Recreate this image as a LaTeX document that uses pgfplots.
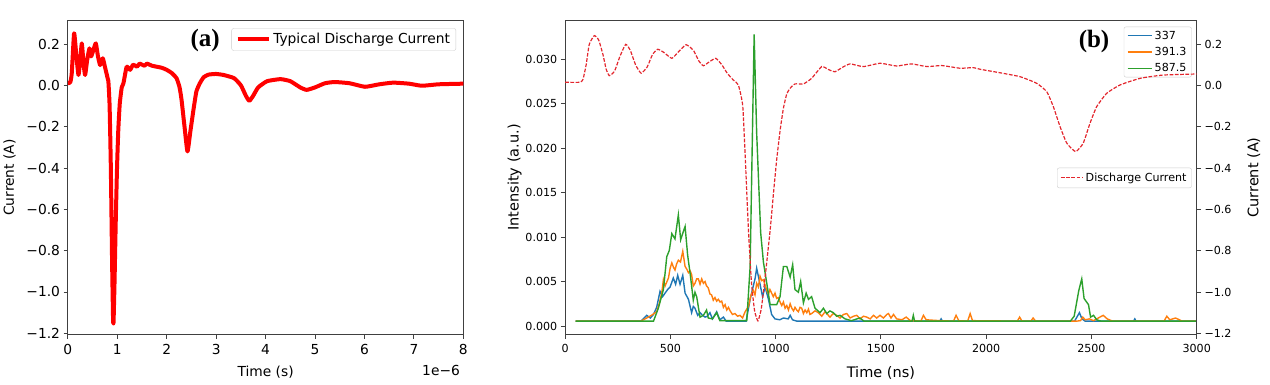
\documentclass[border=0pt]{standalone}
\usepackage{pgfplots}
\pgfplotsset{compat=1.18}
\usepackage{fontspec}
\setmainfont{DejaVu Sans}
\newfontfamily\serifb{Liberation Serif}
\definecolor{tblue}{HTML}{1F77B4}
\definecolor{torange}{HTML}{FF7F0E}
\definecolor{tgreen}{HTML}{2CA02C}
\definecolor{tred}{HTML}{E3262D}
\newcommand\fa{\fontsize{13.8}{16}\selectfont}
\newcommand\fbt{\fontsize{11.1}{13}\selectfont}
\newcommand\fbl{\fontsize{14.5}{17}\selectfont}

\pgfplotstableread{
x y
0 0.01
0.05 0.015
0.08 0.06
0.127 0.252
0.17 0.15
0.215 0.05
0.25 0.12
0.283 0.203
0.32 0.1
0.35 0.05
0.39 0.12
0.437 0.179
0.47 0.14
0.518 0.171
0.566 0.203
0.61 0.14
0.653 0.098
0.707 0.131
0.75 0.09
0.8 0.04
0.82 0.02
0.845 -0.1
0.87 -0.4
0.895 -0.85
0.915 -1.13
0.925 -1.145
0.945 -0.95
0.97 -0.65
0.995 -0.4
1.02 -0.22
1.05 -0.09
1.09 -0.01
1.125 0.01
1.19 0.09
1.26 0.075
1.32 0.1
1.4 0.09
1.45 0.105
1.55 0.095
1.6 0.105
1.7 0.095
1.8 0.09
1.9 0.085
2.0 0.075
2.1 0.06
2.2 0.034
2.26 -0.01
2.3 -0.07
2.36 -0.2
2.42 -0.32
2.48 -0.22
2.54 -0.12
2.6 -0.03
2.67 0.01
2.75 0.04
2.85 0.052
3.0 0.055
3.15 0.05
3.36 0.035
3.5 0.0
3.6 -0.05
3.67 -0.075
3.75 -0.05
3.85 -0.01
4.03 0.02
4.3 0.03
4.5 0.02
4.7 -0.01
4.83 -0.022
5.0 -0.01
5.2 0.01
5.4 0.016
5.7 0.01
6.01 -0.007
6.3 0.005
6.58 0.013
6.9 0.008
7.16 -0.002
7.5 0.005
8.0 0.008
}\curA

\pgfplotstableread{
x y
0 0.016
70 0.016
85 0.03
100 0.1
115 0.2
139 0.242
160 0.22
180 0.15
195 0.08
210 0.048
235 0.07
260 0.14
288 0.2
310 0.17
335 0.1
361 0.06
390 0.09
415 0.15
440 0.176
470 0.16
507 0.132
540 0.165
575 0.198
610 0.17
635 0.12
657 0.096
685 0.115
716 0.132
745 0.1
770 0.06
799 0.027
823 0.003
844 -0.10
858 -0.4
871 -0.70
885 -0.95
900 -1.09
916 -1.14
932 -1.08
950 -0.93
974 -0.70
990 -0.52
1005 -0.36
1021 -0.22
1037 -0.11
1053 -0.04
1069 -0.013
1092 0.008
1132 0.008
1171 0.035
1219 0.092
1250 0.078
1282 0.067
1320 0.09
1354 0.105
1417 0.092
1496 0.108
1575 0.095
1646 0.105
1718 0.092
1789 0.097
1876 0.084
1939 0.087
1971 0.079
2066 0.062
2161 0.043
2240 0.011
2288 -0.03
2319 -0.102
2351 -0.199
2383 -0.279
2425 -0.32
2461 -0.279
2493 -0.183
2525 -0.102
2573 -0.037
2636 0.003
2731 0.035
2841 0.051
3000 0.056
}\curB

\pgfplotstableread{
x y
50 0.00055
360 0.00055
388 0.0012
405 0.0009
420 0.0013
435 0.0021
451 0.0039
463 0.0033
475 0.0037
487 0.0041
499 0.0044
514 0.0054
525 0.0047
535 0.0057
546 0.0047
559 0.0057
570 0.0037
586 0.003
601 0.0015
609 0.0022
617 0.002
630 0.0012
641 0.0015
653 0.0012
665 0.001
676 0.0011
688 0.0015
700 0.0008
720 0.0016
735 0.0007
752 0.001
765 0.00055
860 0.00055
879 0.003
903 0.0054
910 0.0065
926 0.0047
938 0.0033
950 0.0044
966 0.003
981 0.0013
997 0.0008
1020 0.0007
1037 0.0009
1060 0.0008
1069 0.0012
1080 0.0007
1100 0.00055
1780 0.00055
1786 0.0008
1792 0.00055
2420 0.00055
2443 0.0015
2455 0.0008
2470 0.00055
2700 0.00055
2706 0.0008
2712 0.00055
3000 0.00055
}\sA

\pgfplotstableread{
x y
50 0.00055
360 0.00055
388 0.0009
410 0.0012
435 0.0016
447 0.0025
459 0.0037
467 0.0052
475 0.0045
491 0.0054
499 0.0065
507 0.0071
515 0.0066
522 0.0063
530 0.007
538 0.0074
548 0.0072
559 0.0084
570 0.0067
578 0.0064
586 0.006
594 0.0062
601 0.0058
609 0.0045
617 0.0048
625 0.0053
633 0.0053
641 0.0047
649 0.0053
657 0.0048
665 0.005
672 0.0045
680 0.0043
688 0.0036
696 0.0035
704 0.0029
712 0.0032
720 0.0028
728 0.003
736 0.0027
744 0.0028
752 0.0021
760 0.0024
768 0.0018
776 0.0021
784 0.0017
795 0.0013
807 0.0014
819 0.0011
831 0.0012
843 0.0009
855 0.0016
871 0.0022
883 0.0035
894 0.004
902 0.0035
910 0.0048
918 0.0044
926 0.0056
934 0.0051
942 0.0052
950 0.0046
958 0.004
966 0.0036
973 0.0041
981 0.0037
989 0.0033
997 0.0037
1005 0.0031
1013 0.0032
1021 0.0027
1029 0.0023
1037 0.0027
1045 0.002
1053 0.0023
1061 0.0018
1069 0.0025
1077 0.002
1085 0.0017
1092 0.0021
1100 0.0018
1108 0.0016
1116 0.0021
1124 0.002
1132 0.0014
1140 0.0018
1148 0.0015
1156 0.0019
1163 0.0013
1171 0.0014
1187 0.0017
1203 0.0015
1219 0.0011
1235 0.0016
1243 0.0014
1258 0.001
1274 0.0014
1290 0.0012
1306 0.0009
1322 0.0013
1338 0.0014
1354 0.0009
1370 0.0011
1385 0.0012
1401 0.0008
1417 0.0011
1433 0.001
1449 0.0008
1465 0.0012
1480 0.0009
1496 0.0012
1512 0.0009
1528 0.0013
1536 0.0014
1548 0.0009
1560 0.0013
1575 0.0008
1600 0.0007
1620 0.0010
1640 0.0006
1690 0.00055
1702 0.0012
1715 0.0007
1780 0.0006
1845 0.00055
1857 0.0012
1870 0.0006
1912 0.00055
1924 0.0014
1935 0.0006
2148 0.00055
2159 0.001
2170 0.00055
2212 0.00055
2223 0.0009
2235 0.00055
2430 0.00055
2448 0.0006
2459 0.001
2470 0.0007
2490 0.0008
2510 0.0006
2540 0.001
2556 0.0012
2575 0.0008
2600 0.00055
2845 0.00055
2858 0.0011
2872 0.0007
2900 0.0009
2930 0.00055
3000 0.00055
}\sB

\pgfplotstableread{
x y
50 0.00055
420 0.00055
443 0.002
467 0.0041
483 0.0078
495 0.0085
507 0.0104
522 0.0098
538 0.0125
549 0.0097
560 0.0105
570 0.0112
582 0.008
594 0.0059
609 0.0029
617 0.0038
625 0.0033
641 0.001
657 0.0012
672 0.0018
680 0.0009
700 0.0008
720 0.0015
735 0.0006
863 0.0006
879 0.0067
898 0.0328
910 0.0217
929 0.0105
942 0.0072
958 0.0048
974 0.0024
1005 0.0024
1021 0.0033
1037 0.0067
1053 0.0067
1069 0.0055
1081 0.0069
1092 0.0041
1108 0.0038
1119 0.005
1132 0.0026
1145 0.0037
1156 0.003
1171 0.0033
1187 0.002
1211 0.0015
1227 0.0020
1243 0.0014
1258 0.0017
1274 0.0015
1290 0.0011
1306 0.0012
1330 0.0008
1360 0.0006
1400 0.0009
1420 0.00055
1648 0.00055
1654 0.0012
1660 0.00055
2400 0.00055
2418 0.0011
2440 0.004
2454 0.0053
2465 0.0031
2486 0.0024
2496 0.001
2510 0.0012
2525 0.0007
2545 0.00055
3000 0.00055
}\sC

\pgfplotsset{
  myaxis/.style={
    scale only axis,
    axis line style={black!75, line width=0.9pt},
    every tick/.style={black!75, line width=0.9pt},
    tick align=outside,
    major tick length=4.3pt,
    xtick pos=bottom,
    scaled ticks=false,
    clip=true,
  },
  mylegend/.style={
    legend cell align=left,
    legend style={draw=black!20, fill=white, fill opacity=0.8, text opacity=1,
      rounded corners=2pt, inner sep=2pt},
  },
}

\begin{document}
\begin{tikzpicture}[x=1pt,y=1pt]
\path (0,0) rectangle (1270,-385);

% ---------------- panel (a)
\begin{axis}[myaxis, mylegend,
  at={(67.7pt,-334.3pt)}, anchor=south west,
  width=395.6pt, height=313.6pt,
  xmin=0, xmax=8, ymin=-1.2048, ymax=0.3128,
  ytick pos=left,
  xtick={0,1,2,3,4,5,6,7,8},
  xticklabels={0,1,2,3,4,5,6,7,8},
  ytick={-1.2,-1.0,-0.8,-0.6,-0.4,-0.2,0.0,0.2},
  yticklabels={−1.2,−1.0,−0.8,−0.6,−0.4,−0.2,0.0,0.2},
  ticklabel style={font=\fa},
  xticklabel style={yshift=-2pt},
  xlabel={Time (s)}, ylabel={Current (A)},
  label style={font=\fa},
  xlabel style={yshift=-5pt},
  ylabel style={yshift=4pt},
  legend style={at={(0.9816,0.9758)}, anchor=north east, font=\fa, inner xsep=4pt, inner ysep=3pt},
  legend image code/.code={\draw[#1] (0pt,0pt) -- (31.6pt,0pt);},
]
\addplot[red, line width=4pt, line join=round, smooth, tension=0.3] table {\curA};
\addlegendentry{Typical Discharge Current}
\end{axis}
\node[font=\fa, anchor=east] at (463.3,-371) {1e−6};
\node[font=\serifb\bfseries\fontsize{25}{28}\selectfont] at (205,-40) {(a)};

% ---------------- panel (b), left axis
\begin{axis}[myaxis, mylegend,
  at={(565pt,-334.3pt)}, anchor=south west,
  width=631.7pt, height=313.6pt,
  xmin=0, xmax=3000, ymin=-0.00093, ymax=0.03435,
  ytick pos=left,
  xtick={0,500,1000,1500,2000,2500,3000},
  xticklabels={0,500,1000,1500,2000,2500,3000},
  ytick={0,0.005,0.01,0.015,0.02,0.025,0.03},
  yticklabels={0.000,0.005,0.010,0.015,0.020,0.025,0.030},
  ticklabel style={font=\fbt},
  xticklabel style={yshift=-2pt},
  xlabel={Time (ns)}, ylabel={Intensity (a.u.)},
  label style={font=\fbl},
  xlabel style={yshift=-7pt},
  ylabel style={yshift=-3pt},
  legend style={at={(0.9921,0.9809)}, anchor=north east, font=\fbt, inner xsep=3pt, inner ysep=2pt, row sep=2.5pt},
  legend image code/.code={\draw[#1, line width=1.4pt] (0pt,0pt) -- (24.4pt,0pt);},
]
\addplot[tblue, line width=1.4pt] table {\sA};
\addlegendentry{337}
\addplot[torange, line width=1.4pt] table {\sB};
\addlegendentry{391.3}
\addplot[tgreen, line width=1.4pt] table {\sC};
\addlegendentry{587.5}
\end{axis}

% ---------------- panel (b), right axis
\begin{axis}[myaxis, mylegend,
  at={(565pt,-334.3pt)}, anchor=south west,
  width=631.7pt, height=313.6pt,
  xmin=0, xmax=3000, ymin=-1.2048, ymax=0.3143,
  axis x line=none,
  axis y line*=right,
  ytick={-1.2,-1.0,-0.8,-0.6,-0.4,-0.2,0.0,0.2},
  yticklabels={−1.2,−1.0,−0.8,−0.6,−0.4,−0.2,0.0,0.2},
  ticklabel style={font=\fbt},
  ylabel={Current (A)},
  label style={font=\fbl},
  ylabel style={yshift=-9pt},
  legend style={at={(0.9921,0.5312)}, anchor=north east, font=\fbt, inner xsep=3pt, inner ysep=3pt},
  legend image code/.code={\draw[#1] (0pt,0pt) -- (22.3pt,0pt);},
]
\addplot[tred, line width=1.2pt, dash pattern=on 3.7pt off 1.6pt, smooth, tension=0.3] table {\curB};
\addlegendentry{Discharge Current}
\end{axis}
\node[font=\serifb\bfseries\fontsize{25}{28}\selectfont] at (1094,-41.7) {(b)};
\end{tikzpicture}
\end{document}
